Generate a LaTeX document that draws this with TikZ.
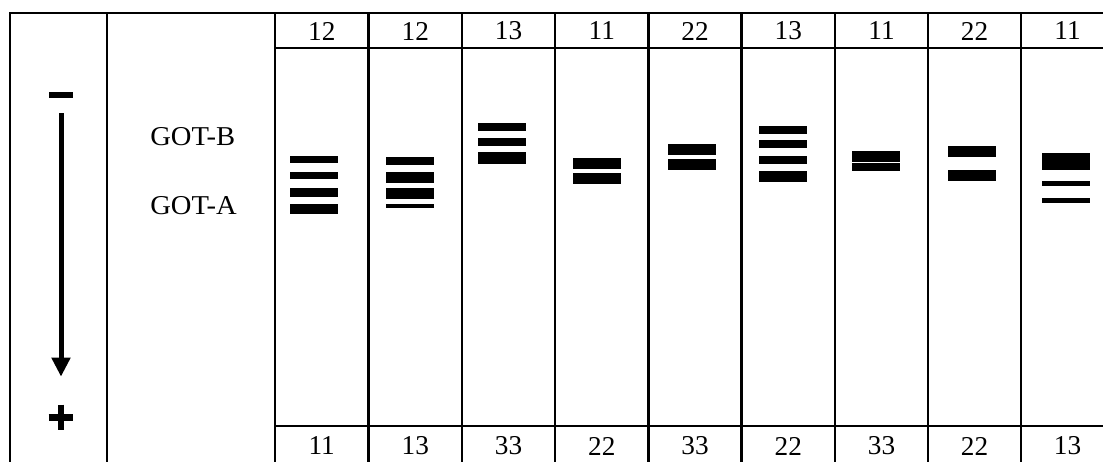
\documentclass[tikz,border=0pt]{standalone}
\usepackage{fontspec}
\setmainfont{Liberation Serif}
\usetikzlibrary{arrows.meta}

\tikzset{
  grid/.style={line width=1.35pt},
  lanelabel/.style={inner sep=0pt, font=\fontsize{15.5}{18}\selectfont},
  bandlabel/.style={inner sep=0pt, anchor=west, font=\fontsize{15.5}{18}\selectfont},
}

\begin{document}
\begin{tikzpicture}[x=0.02cm, y=-0.02cm]
  \useasboundingbox (0,0) rectangle (1103,462);

  % frame and lanes
  \draw[grid] (10,470) -- (10,13) -- (1110,13);
  \draw[grid] (107,13) -- (107,470);
  \foreach \x in {275,368.5,462,555,648.5,741.5,835,928,1021}
    \draw[grid] (\x,13) -- (\x,470);
  \draw[grid] (275,48) -- (1110,48);
  \draw[grid] (275,426) -- (1110,426);

  % sample labels
  \foreach \x/\t/\b [count=\i] in {321.75/12/11, 415.25/12/13, 508.5/13/33, 601.75/11/22,
      695/22/33, 788.25/13/22, 881.5/11/33, 974.5/22/22, 1067.5/11/13} {
    \node[lanelabel] (top\i) at (\x,31) {\t};
    \node[lanelabel] (bot\i) at (\x,446) {\b};
  }

  \node[bandlabel] (gotb) at (150,137) {\scalebox{1.05}[1]{GOT-B}};
  \node[bandlabel] (gota) at (150,206) {\scalebox{1.05}[1]{GOT-A}};

  % electrodes
  \node[fill=black, inner sep=0pt, minimum width=0.48cm, minimum height=0.13cm] (minus) at (61,95) {};
  \node[inner sep=0pt, minimum width=0.48cm, minimum height=0.5cm] (plus) at (61,417.5) {};
  \draw[line width=0.14cm] (plus.west) -- (plus.east) (plus.north) -- (plus.south);
  \draw[line width=0.1cm, -{Triangle[length=0.38cm,width=0.36cm]},
    shorten <=0.29cm, shorten >=0.56cm] (minus.south) -- (plus.north);

  % bands
  \foreach \x/\a/\b in {314/155.7/163.3, 314/171.7/179.3, 314/188.3/196.7, 314/204/214.3,
      409.5/156.7/164.7, 409.5/171.7/182.7, 409.5/188.3/199.3, 409.5/204.3/208.3,
      502/122.7/130.7, 502/138/146, 502/152.3/164.3,
      596.5/158.3/169, 596.5/173.3/184,
      692/144.3/155.3, 692/159/170,
      782.5/126/134.3, 782.5/140/148.3, 782.5/156/164, 782.5/171/181.7,
      876/151/161.7, 876/162.7/171,
      972/145.7/156.7, 972/170/181,
      1066/153.3/170, 1066/181/186, 1066/198.3/203.3}
    \fill ({\x-24},\a) rectangle ({\x+24},\b);
\end{tikzpicture}
\end{document}
